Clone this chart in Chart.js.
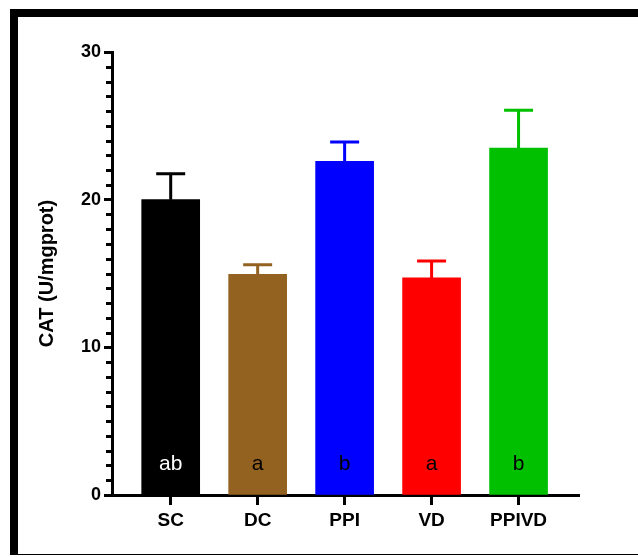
<!DOCTYPE html>
<html>
<head>
<meta charset="utf-8">
<script src="https://cdn.jsdelivr.net/npm/chart.js@4.4.1/dist/chart.umd.min.js"></script>
<style>
  html, body { margin: 0; padding: 0; background: #fff; }
  #wrap { position: relative; width: 638px; height: 557px; overflow: hidden; }
  #c { position: absolute; left: 0; top: 0; }
  #frame { position: absolute; left: 10px; top: 9px; width: 640px; height: 546px;
           border-top: 8px solid #000; border-left: 8px solid #000; border-bottom: 1px solid #000;
           box-sizing: border-box; pointer-events: none; }
</style>
</head>
<body>
<div id="wrap">
  <canvas id="c" width="638" height="557"></canvas>
  <div id="frame"></div>
</div>
<script>
// ---- data ----
const categories = ['SC', 'DC', 'PPI', 'VD', 'PPIVD'];
const means = [20.0, 14.95, 22.6, 14.7, 23.5];
const errors = [1.75, 0.65, 1.3, 1.15, 2.55];
const letters = ['ab', 'a', 'b', 'a', 'b'];
const barColors = ['#000000', '#936220', '#0000FF', '#FF0000', '#00C000'];
const letterColors = ['#FFFFFF', '#000000', '#000000', '#000000', '#000000'];
const yMajorTicks = [0, 10, 20, 30];
const yTitle = 'CAT (U/mgprot)';

const FONT = "'Liberation Sans', Arial, Helvetica, sans-serif";

const errorBarPlugin = {
  id: 'errorBars',
  afterDatasetsDraw(chart) {
    const ctx = chart.ctx;
    const meta = chart.getDatasetMeta(0);
    const ys = chart.scales.y;
    ctx.save();
    meta.data.forEach((el, i) => {
      const top = ys.getPixelForValue(means[i] + errors[i]);
      ctx.strokeStyle = barColors[i];
      ctx.lineWidth = 3;
      ctx.beginPath();
      ctx.moveTo(el.x, el.y);
      ctx.lineTo(el.x, top);
      ctx.moveTo(el.x - 14.5, top);
      ctx.lineTo(el.x + 14.5, top);
      ctx.stroke();
    });
    ctx.restore();
  }
};

const letterPlugin = {
  id: 'letters',
  afterDatasetsDraw(chart) {
    const ctx = chart.ctx;
    const meta = chart.getDatasetMeta(0);
    const ys = chart.scales.y;
    const base = ys.getPixelForValue(1.7);
    ctx.save();
    ctx.font = "21px " + FONT;
    ctx.textAlign = 'center';
    ctx.textBaseline = 'alphabetic';
    meta.data.forEach((el, i) => {
      ctx.fillStyle = letterColors[i];
      ctx.fillText(letters[i], el.x, base);
    });
    ctx.restore();
  }
};

const minorTickPlugin = {
  id: 'minorTicks',
  afterDraw(chart) {
    const ctx = chart.ctx;
    const ys = chart.scales.y;
    const x = chart.chartArea.left;
    ctx.save();
    ctx.strokeStyle = '#000';
    ctx.lineWidth = 3;
    ctx.beginPath();
    for (let v = ys.min; v <= ys.max; v++) {
      if (yMajorTicks.includes(v)) continue;
      const y = Math.round(ys.getPixelForValue(v)) + 0.5;
      ctx.moveTo(x - 6, y);
      ctx.lineTo(x, y);
    }
    ctx.stroke();
    ctx.restore();
  }
};

new Chart(document.getElementById('c'), {
  type: 'bar',
  data: {
    datasets: [{
      data: means.map((m, i) => ({ x: i, y: m })),
      backgroundColor: barColors,
      borderWidth: 0,
      barThickness: 58
    }]
  },
  options: {
    responsive: false,
    animation: false,
    devicePixelRatio: 1,
    layout: { padding: { left: 0, top: 52, right: 59, bottom: 0 } },
    plugins: { legend: { display: false }, tooltip: { enabled: false } },
    scales: {
      x: {
        type: 'linear',
        offset: false,
        min: -0.675,
        max: 4.695,
        afterBuildTicks(scale) { scale.ticks = categories.map((c, i) => ({ value: i })); },
        afterFit(scale) { scale.height = 62; },
        ticks: {
          callback: (v) => categories[v] !== undefined ? categories[v] : '',
          color: '#000',
          font: { family: FONT, size: 19, weight: 'bold' },
          padding: 4,
          maxRotation: 0,
          autoSkip: false
        },
        grid: { offset: false, drawOnChartArea: false, drawTicks: true, tickLength: 10, tickWidth: 3, tickColor: '#000' },
        border: { display: true, color: '#000', width: 3 }
      },
      y: {
        min: 0,
        max: 30,
        afterBuildTicks(scale) { scale.ticks = yMajorTicks.map(v => ({ value: v })); },
        afterFit(scale) { scale.width = 112; },
        ticks: {
          color: '#000',
          font: { family: FONT, size: 18, weight: 'bold' },
          padding: 3
        },
        grid: { drawOnChartArea: false, drawTicks: true, tickLength: 8, tickWidth: 3, tickColor: '#000' },
        border: { display: true, color: '#000', width: 3 },
        title: {
          display: true,
          text: yTitle,
          color: '#000',
          font: { family: FONT, size: 20, weight: 'bold' },
          padding: { top: 35, bottom: 0 }
        }
      }
    }
  },
  plugins: [errorBarPlugin, letterPlugin, minorTickPlugin]
});
</script>
</body>
</html>
